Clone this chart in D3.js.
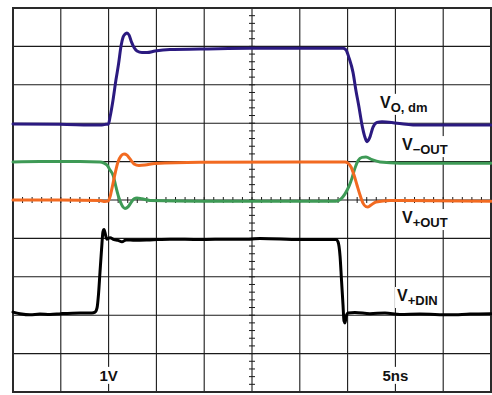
<!DOCTYPE html>
<html>
<head>
<meta charset="utf-8">
<script src="https://cdn.jsdelivr.net/npm/d3@7"></script>
<style>
  html, body { margin: 0; padding: 0; background: #fff; }
  svg { display: block; }
</style>
</head>
<body>
<svg id="chart" width="492" height="395"></svg>
<script>
// ---- Data (time in ns, amplitude in divisions / volts at 1V/div) ----
const timeDomain = [0, 50];        // 5 ns/div, 10 divisions
const voltDomain = [-5, 5];        // 1 V/div, 10 divisions
const scaleLabels = ["1V", "5ns"];
const scaleLabelTimes = [10, 40];
const scaleLabelLevel = -4.71;

const traceNames = ["VO,dm", "V-OUT", "V+OUT", "V+DIN"];

const vodm = [[0,1.98],[4.92,1.97],[9.10,1.95],[9.73,1.97],[9.99,1.98],[10.15,2.16],[10.46,2.60],[10.77,3.13],[11.04,3.54],[11.30,4.01],[11.51,4.24],[11.72,4.32],[11.92,4.35],[12.13,4.30],[12.40,4.11],[12.66,3.97],[12.97,3.88],[13.49,3.84],[14.02,3.84],[14.85,3.88],[16.42,3.92],[19.56,3.93],[24.79,3.95],[34.21,3.95],[34.52,3.95],[34.83,3.91],[35.15,3.70],[35.56,3.33],[35.88,2.84],[36.19,2.42],[36.51,1.95],[36.77,1.67],[37.03,1.52],[37.29,1.61],[37.66,1.90],[38.08,2.02],[38.60,2.04],[40.17,2.00],[42.57,1.95],[50,1.95]];

const vMinusOut = [[0,0.99],[2.82,1.00],[7.01,1.00],[9.10,0.99],[9.52,0.96],[9.83,0.91],[10.15,0.78],[10.46,0.65],[10.77,0.34],[11.09,0.05],[11.40,-0.14],[11.72,-0.22],[12.03,-0.18],[12.34,-0.07],[12.66,0.03],[12.97,0.05],[13.49,0.03],[14.33,-0.01],[19.56,-0.03],[33.79,-0.03],[34.31,0.03],[34.73,0.16],[35.15,0.36],[35.46,0.57],[35.77,0.83],[36.09,1.02],[36.51,1.11],[36.92,1.12],[37.55,1.05],[38.39,0.99],[40.48,0.96],[50,0.96]];

const vPlusOut = [[0,0],[4.92,0],[9.10,-0.01],[9.62,-0.04],[9.94,-0.03],[10.15,0.08],[10.36,0.31],[10.67,0.68],[10.98,0.99],[11.30,1.15],[11.61,1.20],[11.92,1.17],[12.24,1.07],[12.66,0.94],[13.18,0.90],[13.81,0.91],[14.85,0.95],[19.56,0.98],[30.02,0.99],[34.73,0.99],[35.04,0.96],[35.36,0.86],[35.67,0.65],[35.98,0.39],[36.30,0.13],[36.61,-0.08],[36.92,-0.17],[37.13,-0.18],[37.45,-0.13],[37.97,-0.05],[39.44,-0.01],[50,-0.03]];

const vPlusDin = [[0,-2.92],[0.73,-2.96],[1.78,-2.99],[2.82,-2.97],[3.87,-2.98],[5.02,-2.96],[7.01,-2.94],[8.26,-2.94],[8.58,-2.92],[8.79,-2.81],[8.94,-2.47],[9.10,-1.88],[9.26,-1.30],[9.41,-0.83],[9.52,-0.77],[9.68,-0.91],[9.83,-1.02],[10.15,-0.98],[10.57,-1.03],[10.98,-1.05],[11.40,-1.09],[11.82,-1.04],[12.76,-1.05],[14.33,-1.04],[16.42,-1.02],[19.56,-1.03],[22.70,-1.02],[24.79,-1.02],[25.84,-1.00],[30.02,-1.03],[33.79,-1.03],[34.00,-1.09],[34.21,-1.46],[34.36,-2.08],[34.52,-2.73],[34.62,-3.15],[34.73,-3.20],[34.83,-3.05],[35.04,-2.94],[35.77,-2.93],[37.34,-2.96],[38.91,-2.94],[40.48,-2.98],[42.57,-2.97],[45.71,-2.99],[47.80,-2.97],[50,-2.96]];

// label anchors [time, level] and subscript text
const labelMain = ["V", "V", "V", "V"];
const labelSub = ["O, dm", "\u2212OUT", "+OUT", "+DIN"];
const labelTimes = [38.39, 40.69, 40.69, 40.17];
const labelLevels = [2.40, 1.30, -0.60, -2.63];

// ---- Layout ----
const svg = d3.select("#chart");
const plotL = 13, plotR = 491, plotT = 8, plotB = 392;
const x = d3.scaleLinear().domain(timeDomain).range([plotL, plotR]);
const y = d3.scaleLinear().domain(voltDomain).range([plotB, plotT]);

const grid = svg.append("g");
const xDivs = d3.range(timeDomain[0], timeDomain[1] + 0.001, 5);
const yDivs = d3.range(voltDomain[0], voltDomain[1] + 0.001, 1);

grid.selectAll("line.vx").data(xDivs).join("line")
  .attr("x1", d => x(d)).attr("x2", d => x(d))
  .attr("y1", plotT).attr("y2", plotB)
  .attr("stroke", "#1a1a1a").attr("stroke-width", 1.1);
grid.selectAll("line.hy").data(yDivs).join("line")
  .attr("y1", d => y(d)).attr("y2", d => y(d))
  .attr("x1", plotL).attr("x2", plotR)
  .attr("stroke", "#1a1a1a").attr("stroke-width", 1.1);

// minor ticks on the centre axes
const xMinor = d3.range(timeDomain[0], timeDomain[1] + 0.001, 1);
const yMinor = d3.range(voltDomain[0], voltDomain[1] + 0.001, 0.2);
grid.selectAll("line.mx").data(xMinor).join("line")
  .attr("x1", d => x(d)).attr("x2", d => x(d))
  .attr("y1", y(0) - 3).attr("y2", y(0) + 3)
  .attr("stroke", "#1a1a1a").attr("stroke-width", 1);
grid.selectAll("line.my").data(yMinor).join("line")
  .attr("y1", d => y(d)).attr("y2", d => y(d))
  .attr("x1", x(25) - 3).attr("x2", x(25) + 3)
  .attr("stroke", "#1a1a1a").attr("stroke-width", 1);

// ---- Labels with white backgrounds ----
const font = "'Liberation Sans', Arial, Helvetica, sans-serif";
const labG = svg.append("g");

function addLabel(g, tx, ty, main, sub, anchor, size) {
  const t = g.append("text")
    .attr("x", tx).attr("y", ty)
    .attr("font-family", font).attr("font-weight", "bold")
    .attr("font-size", size).attr("fill", "#111")
    .attr("text-anchor", anchor);
  t.append("tspan").text(main);
  if (sub) t.append("tspan").attr("font-size", 13).attr("dy", 4).text(sub);
  const b = t.node().getBBox();
  g.insert("rect", () => t.node())
    .attr("x", b.x - 2).attr("y", b.y)
    .attr("width", b.width + 4).attr("height", b.height)
    .attr("fill", "#fff");
}

scaleLabels.forEach((s, i) => {
  addLabel(labG, x(scaleLabelTimes[i]), y(scaleLabelLevel), s, null, "middle", 15);
});

labelMain.forEach((m, i) => {
  addLabel(labG, x(labelTimes[i]), y(labelLevels[i]), m, labelSub[i], "start", 16);
});

// frame
svg.append("rect")
  .attr("x", plotL).attr("y", plotT)
  .attr("width", plotR - plotL).attr("height", plotB - plotT)
  .attr("fill", "none").attr("stroke", "#2a2a2a").attr("stroke-width", 2);

// ---- Traces ----
const line = d3.line().x(d => x(d[0])).y(d => y(d[1])).curve(d3.curveMonotoneX);
const traces = [
  { data: vodm, color: "#2b1a80" },
  { data: vMinusOut, color: "#3e9a56" },
  { data: vPlusOut, color: "#f26a21" },
  { data: vPlusDin, color: "#000000" }
];
svg.append("g").selectAll("path").data(traces).join("path")
  .attr("d", d => line(d.data))
  .attr("fill", "none")
  .attr("stroke", d => d.color)
  .attr("stroke-width", 3)
  .attr("stroke-linejoin", "round")
  .attr("stroke-linecap", "round");
</script>
</body>
</html>
